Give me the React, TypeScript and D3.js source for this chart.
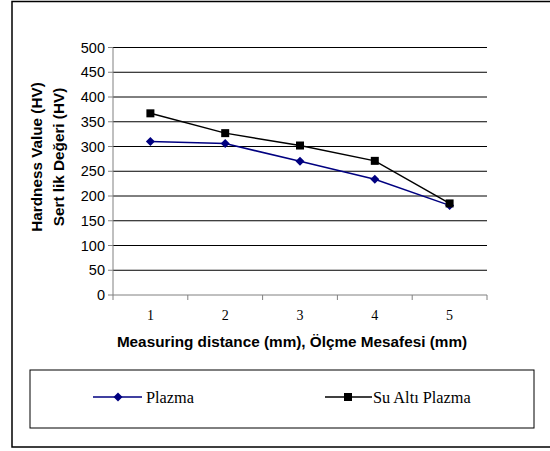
import React from "react";
import * as d3 from "d3";

const categories = ["1", "2", "3", "4", "5"];
const plazma = [310, 306, 270, 234, 181];
const suAltiPlazma = [367, 327, 302, 271, 185];
const yTicks = [0, 50, 100, 150, 200, 250, 300, 350, 400, 450, 500];
const seriesNames = ["Plazma", "Su Altı Plazma"];

export default function App() {
  const W = 550, H = 451;
  const left = 113, right = 487, top = 47.5, bottom = 295;
  const x = d3.scaleBand().domain(categories).range([left, right]);
  const y = d3.scaleLinear().domain([0, 500]).range([bottom, top]);
  const line = d3
    .line<number>()
    .x((_, i) => (x(categories[i]) as number) + x.bandwidth() / 2)
    .y((d) => y(d));
  const cx = (i: number) => (x(categories[i]) as number) + x.bandwidth() / 2;
  const diamond = (px: number, py: number, r: number) =>
    `M${px},${py - r}L${px + r},${py}L${px},${py + r}L${px - r},${py}Z`;
  const sans = "Arial, 'Liberation Sans', sans-serif";
  const serif = "'Times New Roman', 'Liberation Serif', serif";
  const boundaries = [...categories.map((c) => x(c) as number), right];

  return (
    <svg
      width={W}
      height={H}
      style={{ position: "absolute", left: 0, top: 0, background: "#fff" }}
    >
      {/* outer frame (right edge lies outside the picture) */}
      <path d="M560,1.5H12V447H560" fill="none" stroke="#000" strokeWidth={1.5} />
      {/* gridlines */}
      {yTicks.slice(1).map((t) => (
        <line key={t} x1={left} x2={right} y1={y(t)} y2={y(t)} stroke="#000" strokeWidth={1} />
      ))}
      {/* y axis */}
      <line x1={left} x2={left} y1={top} y2={bottom} stroke="#808080" strokeWidth={1} />
      {yTicks.map((t) => (
        <g key={t}>
          <line x1={left - 5} x2={left} y1={y(t)} y2={y(t)} stroke="#808080" />
          <text x={105} y={y(t)} dy="0.35em" textAnchor="end" fontFamily={sans} fontSize={14.5}>
            {t}
          </text>
        </g>
      ))}
      {/* x axis */}
      <line x1={left} x2={right} y1={bottom} y2={bottom} stroke="#808080" />
      {boundaries.map((b, i) => (
        <line key={i} x1={b} x2={b} y1={bottom} y2={bottom + 5} stroke="#808080" />
      ))}
      {categories.map((c, i) => (
        <text key={c} x={cx(i)} y={320} textAnchor="middle" fontFamily={serif} fontSize={14}>
          {c}
        </text>
      ))}
      <text x={292} y={347} textAnchor="middle" fontFamily={sans} fontSize={15.3} fontWeight="bold">
        Measuring distance (mm), Ölçme Mesafesi (mm)
      </text>
      {/* y titles */}
      <text
        transform="translate(41.5,157) rotate(-90)"
        textAnchor="middle"
        fontFamily={sans}
        fontSize={15.3}
        fontWeight="bold"
      >
        Hardness Value (HV)
      </text>
      <text
        transform="translate(63.5,157) rotate(-90)"
        textAnchor="middle"
        fontFamily={sans}
        fontSize={15.3}
        fontWeight="bold"
      >
        Sert lik Değeri (HV)
      </text>
      {/* series */}
      <path d={line(plazma) || ""} fill="none" stroke="#000080" strokeWidth={1.5} />
      {plazma.map((v, i) => (
        <path key={i} d={diamond(cx(i), y(v), 4.5)} fill="#000080" />
      ))}
      <path d={line(suAltiPlazma) || ""} fill="none" stroke="#000" strokeWidth={1.5} />
      {suAltiPlazma.map((v, i) => (
        <rect key={i} x={cx(i) - 4} y={y(v) - 4} width={8} height={8} fill="#000" />
      ))}
      {/* legend */}
      <rect x={30} y={370} width={504} height={58} fill="none" stroke="#000" strokeWidth={1} />
      <line x1={93} x2={142} y1={397} y2={397} stroke="#000080" strokeWidth={1.5} />
      <path d={diamond(118, 397, 4.5)} fill="#000080" />
      <text x={146} y={397} dy="0.35em" fontFamily={serif} fontSize={16.3}>
        {seriesNames[0]}
      </text>
      <line x1={325} x2={372} y1={397} y2={397} stroke="#000" strokeWidth={1.5} />
      <rect x={344} y={393} width={8} height={8} fill="#000" />
      <text x={373} y={397} dy="0.35em" fontFamily={serif} fontSize={16.3}>
        {seriesNames[1]}
      </text>
    </svg>
  );
}
